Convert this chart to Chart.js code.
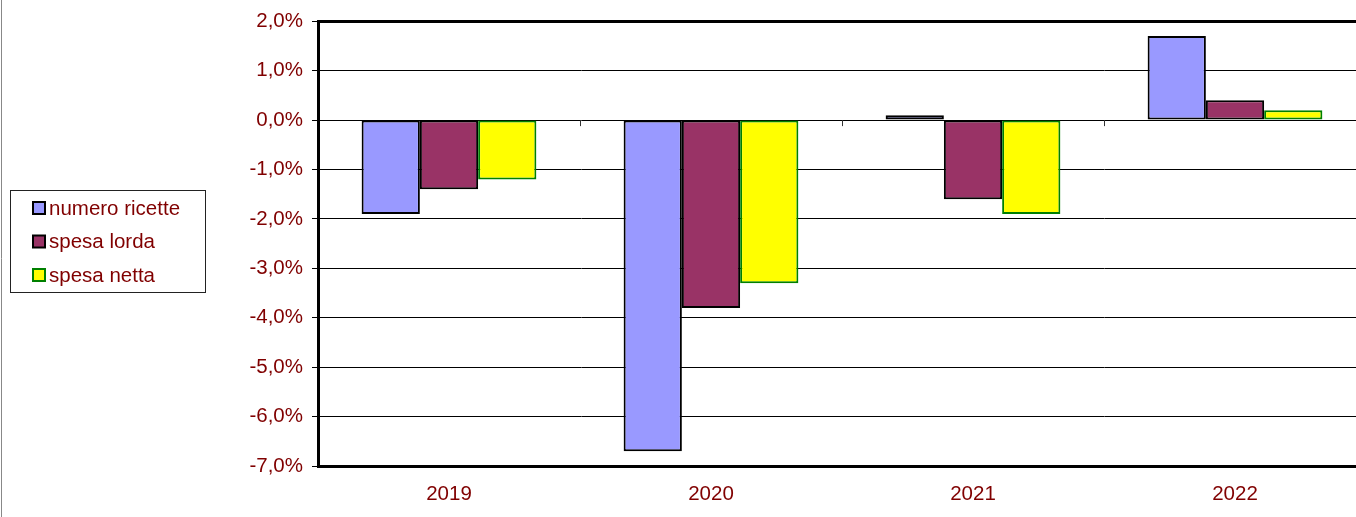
<!DOCTYPE html>
<html>
<head>
<meta charset="utf-8">
<script src="https://cdn.jsdelivr.net/npm/chart.js@4"></script>
<style>
  html, body { margin: 0; padding: 0; background: #fff; overflow: hidden; }
  #wrap { width: 1370px; height: 517px; position: relative; }
</style>
</head>
<body>
<div id="wrap"><canvas id="c" width="1370" height="517"></canvas></div>
<script>
const categories = ["2019", "2020", "2021", "2022"];
const seriesNames = ["numero ricette", "spesa lorda", "spesa netta"];
const numeroRicette = [-1.9, -6.7, 0.1, 1.7];
const spesaLorda = [-1.4, -3.8, -1.6, 0.4];
const spesaNetta = [-1.2, -3.3, -1.9, 0.2];
const yTicks = [2, 1, 0, -1, -2, -3, -4, -5, -6, -7];

const FONT = "'Liberation Sans', Arial, sans-serif";
const TXT = "#800000";
const FSIZE = 20.5;

function fmt(v) {
  return v.toFixed(1).replace(".", ",") + "%";
}

const legendPlugin = {
  id: "boxLegend",
  afterDraw(chart) {
    const ctx = chart.ctx;
    ctx.save();
    // outer left frame line
    ctx.strokeStyle = "#888";
    ctx.lineWidth = 1;
    ctx.beginPath();
    ctx.moveTo(1.5, 0);
    ctx.lineTo(1.5, 517);
    ctx.stroke();
    // legend box
    ctx.strokeStyle = "#222";
    ctx.lineWidth = 1;
    ctx.strokeRect(10.5, 190.5, 195, 102);
    ctx.font = FSIZE + "px " + FONT;
    ctx.textBaseline = "middle";
    ctx.textAlign = "left";
    chart.data.datasets.forEach((ds, i) => {
      const cy = 208 + i * 33.5;
      ctx.fillStyle = ds.backgroundColor;
      ctx.fillRect(33, cy - 6, 12, 12);
      ctx.strokeStyle = ds.borderColor;
      ctx.lineWidth = 2;
      ctx.strokeRect(33, cy - 6, 12, 12);
      ctx.fillStyle = TXT;
      ctx.fillText(ds.label, 49, cy + 1);
    });
    ctx.restore();
  }
};

const catTickPlugin = {
  id: "catTicks",
  afterDatasetsDraw(chart) {
    const x = chart.scales.x, y = chart.scales.y;
    const y0 = y.getPixelForValue(0);
    const ctx = chart.ctx;
    ctx.save();
    ctx.strokeStyle = "#333";
    ctx.lineWidth = 1;
    for (let i = 1; i < categories.length; i++) {
      const px = Math.round((x.getPixelForTick(i - 1) + x.getPixelForTick(i)) / 2) + 0.5;
      ctx.beginPath();
      ctx.moveTo(px, y0);
      ctx.lineTo(px, y0 + 6);
      ctx.stroke();
    }
    ctx.restore();
  }
};

new Chart(document.getElementById("c"), {
  type: "bar",
  data: {
    labels: categories,
    datasets: [
      { label: seriesNames[0], data: numeroRicette, backgroundColor: "#9999FF", borderColor: "#000000" },
      { label: seriesNames[1], data: spesaLorda, backgroundColor: "#993366", borderColor: "#000000" },
      { label: seriesNames[2], data: spesaNetta, backgroundColor: "#FFFF00", borderColor: "#008000" }
    ].map(d => Object.assign(d, {
      borderWidth: 2,
      borderSkipped: false,
      categoryPercentage: 0.667,
      barPercentage: 1.0
    }))
  },
  options: {
    responsive: false,
    animation: false,
    events: [],
    layout: { padding: { left: 0, right: 4, top: 18, bottom: 0 } },
    plugins: {
      legend: { display: false },
      tooltip: { enabled: false },
      title: { display: false }
    },
    scales: {
      x: {
        grid: { display: false, drawTicks: false },
        border: { display: true, color: "#000", width: 3 },
        ticks: { color: TXT, font: { family: FONT, size: FSIZE }, padding: 16 },
        afterFit(s) { s.height = 51; }
      },
      y: {
        min: -7,
        max: 2,
        afterBuildTicks(s) { s.ticks = yTicks.map(v => ({ value: v })); },
        grid: {
          color: "#000",
          lineWidth: ctx => (ctx.tick && (ctx.tick.value === 2) ? 3 : 1),
          tickLength: 6,
          tickColor: "#000",
          tickWidth: 1
        },
        border: { display: true, color: "#000", width: 3 },
        ticks: {
          color: TXT,
          font: { family: FONT, size: FSIZE },
          padding: 9,
          callback: v => fmt(v)
        },
        afterFit(s) { s.width = 318; }
      }
    }
  },
  plugins: [legendPlugin, catTickPlugin]
});
</script>
</body>
</html>
